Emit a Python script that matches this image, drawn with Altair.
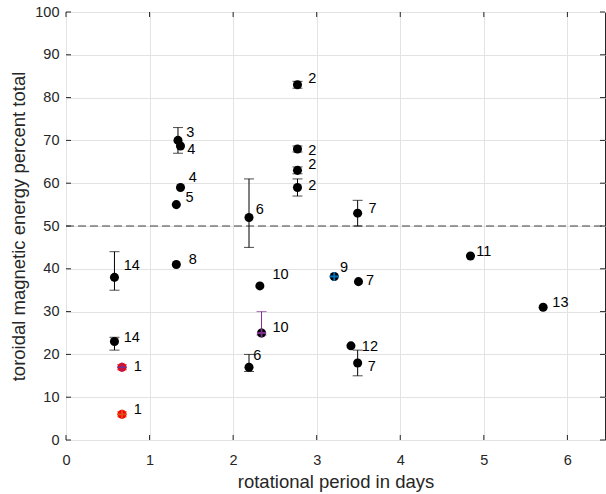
import altair as alt
import pandas as pd

# ---- data ----
px = [2.77, 1.34, 1.37, 1.37, 1.32, 2.19, 2.77, 2.77, 2.77, 3.49, 0.58, 1.32,
      2.32, 3.21, 0.58, 0.67, 0.67, 2.34, 2.19, 3.41, 3.49, 3.50, 4.84, 5.71]
py = [83.0, 70.0, 68.7, 59.0, 55.0, 52.0, 68.0, 63.0, 59.0, 53.0, 38.0, 41.0,
      36.0, 38.2, 23.0, 17.0, 6.0, 25.0, 17.0, 22.0, 18.0, 37.0, 43.0, 31.0]
labels = ["2", "3", "4", "4", "5", "6", "2", "2", "2", "7", "14", "8",
          "10", "9", "14", "1", "1", "10", "6", "12", "7", "7", "11", "13"]
label_x = [2.90, 1.44, 1.45, 1.47, 1.43, 2.27, 2.90, 2.90, 2.90, 3.62, 0.69, 1.47,
           2.47, 3.28, 0.69, 0.81, 0.81, 2.47, 2.24, 3.54, 3.61, 3.59, 4.91, 5.82]
label_y = [84.3, 71.8, 67.8, 61.2, 56.6, 53.7, 67.6, 64.3, 59.4, 53.9, 40.7, 42.1,
           38.6, 40.1, 23.8, 17.1, 7.0, 26.2, 19.6, 21.8, 17.1, 37.1, 43.9, 32.1]
fill = ["black"] * 15 + ["#FF0000", "#FF0000"] + ["black"] * 7

eb_x = [2.77, 1.34, 2.19, 2.77, 2.77, 2.77, 3.49, 0.58, 0.58, 2.34, 2.19, 3.49, 0.67, 0.67]
eb_lo = [82.2, 67.0, 45.0, 67.3, 62.2, 57.0, 50.0, 35.0, 21.0, 24.5, 16.0, 15.0, 16.4, 5.4]
eb_hi = [83.8, 73.0, 61.0, 68.7, 63.8, 61.0, 56.0, 44.0, 24.0, 30.0, 20.0, 21.0, 17.6, 6.6]
eb_color = ["black"] * 9 + ["#7E2F8E", "black", "black", "#7E2F8E", "#D95319"]

cross_x = [0.67, 0.67, 3.21, 2.34]
cross_y = [17.0, 6.0, 38.2, 25.0]
cross_color = ["#7E2F8E", "#D95319", "#0072BD", "#7E2F8E"]

ref_level = [50]
x_ticks = [0, 1, 2, 3, 4, 5, 6]
y_ticks = [0, 10, 20, 30, 40, 50, 60, 70, 80, 90, 100]

W, H = 539, 428
FONT = "Liberation Sans"
TXT = "#262626"

pts = pd.DataFrame({"x": px, "y": py, "label": labels, "lx": label_x,
                    "ly": label_y, "fill": fill})
eb = pd.DataFrame({"x": eb_x, "lo": eb_lo, "hi": eb_hi, "c": eb_color})
cr = pd.DataFrame({"x": cross_x, "y": cross_y, "c": cross_color})

xs = alt.Scale(domain=[0, 6.45], nice=False, zero=False)
ys = alt.Scale(domain=[0, 100], nice=False)

xax = alt.Axis(values=x_ticks, format="d", grid=True, gridColor="#e3e3e3", ticks=False,
               domain=False, labelFont=FONT, labelFontSize=14.5, labelColor=TXT,
               labelFlush=False, labelPadding=13, title="rotational period in days",
               titleFont=FONT, titleFontSize=18.5, titleColor=TXT,
               titleFontWeight="normal", titlePadding=6)
yax = alt.Axis(values=y_ticks, format="d", grid=True, gridColor="#e3e3e3", ticks=False,
               domain=False, labelFont=FONT, labelFontSize=14.5, labelColor=TXT,
               labelFlush=False, labelPadding=7,
               title="toroidal magnetic energy percent total",
               titleFont=FONT, titleFontSize=18.5, titleColor=TXT,
               titleFontWeight="normal", titlePadding=6)

base_axes = alt.Chart(pd.DataFrame({"x": x_ticks})).mark_rule(opacity=0).encode(
    x=alt.X("x:Q", scale=xs, axis=xax),
    y=alt.value(0),
)
yaxis_layer = alt.Chart(pd.DataFrame({"y": y_ticks})).mark_rule(opacity=0).encode(
    y=alt.Y("y:Q", scale=ys, axis=yax),
    x=alt.value(0),
)

# inward ticks on all four sides
xt = pd.DataFrame({"x": x_ticks})
yt = pd.DataFrame({"y": y_ticks})
tick_b = alt.Chart(xt).mark_rule(color=TXT, strokeWidth=1).encode(
    x=alt.X("x:Q", scale=xs), y=alt.value(H), y2=alt.value(H - 5))
tick_t = alt.Chart(xt).mark_rule(color=TXT, strokeWidth=1).encode(
    x=alt.X("x:Q", scale=xs), y=alt.value(0), y2=alt.value(5))
tick_l = alt.Chart(yt).mark_rule(color=TXT, strokeWidth=1).encode(
    y=alt.Y("y:Q", scale=ys), x=alt.value(0), x2=alt.value(5))
tick_r = alt.Chart(yt).mark_rule(color=TXT, strokeWidth=1).encode(
    y=alt.Y("y:Q", scale=ys), x=alt.value(W), x2=alt.value(W - 5))

dash = alt.Chart(pd.DataFrame({"y": ref_level})).mark_rule(
    color="#404040", strokeWidth=1, strokeDash=[8, 4]).encode(
    y=alt.Y("y:Q", scale=ys), x=alt.value(0), x2=alt.value(W))

eb_rule = alt.Chart(eb).mark_rule(strokeWidth=1).encode(
    x=alt.X("x:Q", scale=xs), y=alt.Y("lo:Q", scale=ys), y2="hi:Q",
    color=alt.Color("c:N", scale=None))
cap_lo = alt.Chart(eb).mark_tick(orient="horizontal", size=10, thickness=1).encode(
    x=alt.X("x:Q", scale=xs), y=alt.Y("lo:Q", scale=ys),
    color=alt.Color("c:N", scale=None))
cap_hi = alt.Chart(eb).mark_tick(orient="horizontal", size=10, thickness=1).encode(
    x=alt.X("x:Q", scale=xs), y=alt.Y("hi:Q", scale=ys),
    color=alt.Color("c:N", scale=None))

dots = alt.Chart(pts).mark_point(filled=True, opacity=1, shape="circle", size=82).encode(
    x=alt.X("x:Q", scale=xs), y=alt.Y("y:Q", scale=ys),
    color=alt.Color("fill:N", scale=None))

crosses = alt.Chart(cr).mark_point(shape="M-1,0L1,0M0,-1L0,1", filled=False,
                                   strokeWidth=1.8, size=85, opacity=1).encode(
    x=alt.X("x:Q", scale=xs), y=alt.Y("y:Q", scale=ys),
    color=alt.Color("c:N", scale=None))

texts = alt.Chart(pts).mark_text(align="left", baseline="middle", font=FONT,
                                 fontSize=14.5, color="black").encode(
    x=alt.X("lx:Q", scale=xs), y=alt.Y("ly:Q", scale=ys), text="label:N")

chart = alt.layer(
    base_axes, yaxis_layer, dash, eb_rule, cap_lo, cap_hi, dots, crosses, texts,
    tick_b, tick_t, tick_l, tick_r,
).properties(
    width=W, height=H,
    autosize=alt.AutoSizeParams(type="none"),
    padding={"left": 66, "top": 12, "right": 1, "bottom": 54},
    background="white",
).configure_view(stroke=TXT, strokeWidth=1)

chart.save("out.html", embed_options={"renderer": "svg", "actions": False})
